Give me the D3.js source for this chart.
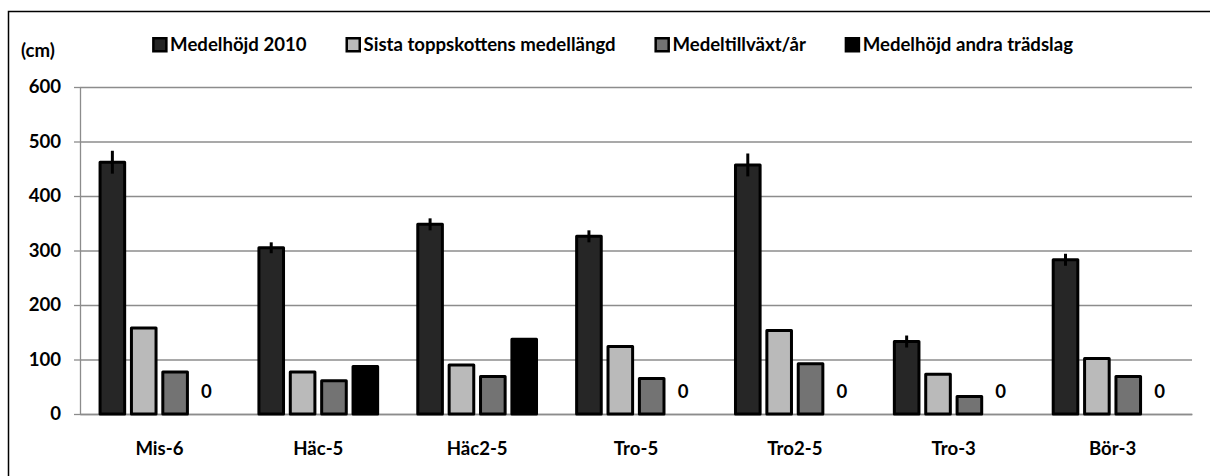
<!DOCTYPE html>
<html>
<head>
<meta charset="utf-8">
<script src="https://cdn.jsdelivr.net/npm/d3@7"></script>
<style>
  html, body { margin: 0; padding: 0; background: #fff; overflow: hidden; }
  svg { display: block; }
  text { font-family: Lato, 'Open Sans', sans-serif; font-weight: 700; fill: #000; }
</style>
</head>
<body>
<div id="chart"></div>
<script>
var categories = ['Mis-6', 'Häc-5', 'Häc2-5', 'Tro-5', 'Tro2-5', 'Tro-3', 'Bör-3'];
var seriesNames = ['Medelhöjd 2010', 'Sista toppskottens medellängd', 'Medeltillväxt/år', 'Medelhöjd andra trädslag'];
var medelhojd2010 = [462, 305, 348, 326, 457, 133, 283];
var medelhojdFel = [21, 10, 11, 11, 21, 11, 11];
var toppskott = [158, 77, 90, 124, 153, 73, 102];
var tillvaxt = [77, 61, 69, 65, 92, 32, 69];
var andraTradslag = [0, 87, 137, 0, 0, 0, 0];
var yTicks = [0, 100, 200, 300, 400, 500, 600];

var colors = ['#262626', '#bababa', '#737373', '#000000'];

var svgWidth = 1210;
var svgHeight = 476;
var margin = {top: 87, right: 18, bottom: 62, left: 80};
var width = svgWidth - margin.left - margin.right;
var height = svgHeight - margin.top - margin.bottom;
var fontSize = '18.6px';

var svg = d3.select('#chart')
            .append('svg')
            .attr('width', svgWidth)
            .attr('height', svgHeight);

// outer frame (right and bottom edges fall outside the picture)
svg.append('path')
   .attr('d', 'M8.5,' + svgHeight + 'V11.5H' + svgWidth)
   .attr('fill', 'none')
   .attr('stroke', '#000')
   .attr('stroke-width', 1.5);

var chartGroup = svg.append('g')
                    .attr('transform', `translate(${margin.left}, ${margin.top})`);

// one row per category, one value per series
var rows = categories.map(function(c, i) {
    return {cat: c, values: [medelhojd2010[i], toppskott[i], tillvaxt[i], andraTradslag[i]], err: medelhojdFel[i]};
});

var x0 = d3.scaleBand()
           .domain(categories)
           .range([0, width])
           .paddingInner(0.21)
           .paddingOuter(0.105);

var x1 = d3.scaleBand()
           .domain([0, 1, 2, 3])
           .range([0, x0.bandwidth()])
           .paddingInner(0.12)
           .paddingOuter(0.06);

var yLinearScale = d3.scaleLinear()
                     .domain([0, 600])
                     .range([height, 0]);

// gridlines
chartGroup.append('g')
          .call(d3.axisLeft(yLinearScale).tickValues(yTicks).tickSize(-width).tickFormat(''))
          .call(g => g.select('.domain').remove())
          .selectAll('line')
          .attr('stroke', '#8c8c8c')
          .attr('stroke-width', 1.3);

var leftAxis = chartGroup.append('g')
                         .call(d3.axisLeft(yLinearScale).tickValues(yTicks).tickSize(6).tickSizeOuter(0).tickPadding(13));
leftAxis.selectAll('line, path').attr('stroke', '#8c8c8c').attr('stroke-width', 1.3);
leftAxis.selectAll('text').attr('font-size', fontSize).attr('fill', '#000');

var bottomAxis = chartGroup.append('g')
                           .attr('transform', `translate(0, ${height})`)
                           .call(d3.axisBottom(x0).tickSize(0).tickSizeOuter(0).tickPadding(28));
bottomAxis.select('.domain').attr('stroke', '#8c8c8c').attr('stroke-width', 1.3);
bottomAxis.selectAll('text').attr('font-size', fontSize).attr('fill', '#000');

// bars
var groups = chartGroup.selectAll('.grp')
                       .data(rows)
                       .enter()
                       .append('g')
                       .attr('class', 'grp')
                       .attr('transform', d => `translate(${x0(d.cat)}, 0)`);

groups.selectAll('rect')
      .data(d => d.values.map((v, k) => ({k: k, v: v})).filter(e => e.v > 0))
      .enter()
      .append('rect')
      .attr('x', e => x1(e.k) + 1.5)
      .attr('width', x1.bandwidth() - 3)
      .attr('y', e => yLinearScale(e.v))
      .attr('height', e => height - yLinearScale(e.v))
      .attr('fill', e => colors[e.k])
      .attr('stroke', '#000')
      .attr('stroke-width', 3)
      .attr('stroke-linejoin', 'round');

// error bars on Medelhöjd 2010
groups.append('line')
      .attr('x1', x1(0) + x1.bandwidth() / 2)
      .attr('x2', x1(0) + x1.bandwidth() / 2)
      .attr('y1', d => yLinearScale(d.values[0] + d.err))
      .attr('y2', d => yLinearScale(d.values[0] - d.err))
      .attr('stroke', '#000')
      .attr('stroke-width', 3);

// "0" labels for empty bars
groups.selectAll('.zero')
      .data(d => d.values.map((v, k) => ({k: k, v: v})).filter(e => e.v === 0))
      .enter()
      .append('text')
      .attr('class', 'zero')
      .attr('x', e => x1(e.k) + x1.bandwidth() / 2)
      .attr('y', e => yLinearScale(e.v) - 16)
      .attr('text-anchor', 'middle')
      .attr('font-size', fontSize)
      .text(e => e.v);

// unit label
svg.append('text')
   .attr('x', 21)
   .attr('y', 57)
   .attr('font-size', fontSize)
   .text('(cm)');

// legend, centred, items spaced by 40px
var legend = svg.append('g').attr('transform', 'translate(0, 37)');
var items = legend.selectAll('g')
                  .data(seriesNames)
                  .enter()
                  .append('g');
items.append('rect')
     .attr('x', 1.25)
     .attr('y', 1.25)
     .attr('width', 13)
     .attr('height', 13)
     .attr('fill', (d, i) => colors[i])
     .attr('stroke', '#000')
     .attr('stroke-width', 2.5);
items.append('text')
     .attr('x', 18)
     .attr('y', 14)
     .attr('font-size', fontSize)
     .text(d => d);

var widths = [];
items.each(function() { widths.push(this.getBBox().width); });
var total = d3.sum(widths) + 40 * (widths.length - 1);
var pos = 612 - total / 2;
items.attr('transform', function(d, i) {
    var t = `translate(${pos}, 0)`;
    pos += widths[i] + 40;
    return t;
});
</script>
</body>
</html>
